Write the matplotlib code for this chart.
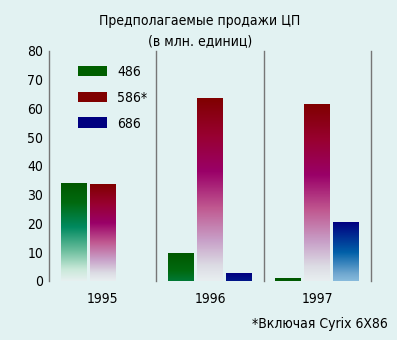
import numpy as np
import matplotlib
matplotlib.use("Agg")
import matplotlib.pyplot as plt
from matplotlib.colors import LinearSegmentedColormap
from matplotlib.patches import Patch

plt.rcParams['font.family'] = ['DejaVu Sans']
plt.rcParams['font.stretch'] = 'condensed'

years = ['1995', '1996', '1997']
series = ['486', '586*', '686']
sales_486 = [34, 9.5, 1]
sales_586 = [33.5, 63.5, 61.5]
sales_686 = [0, 2.5, 20.5]
yticks = [0, 10, 20, 30, 40, 50, 60, 70, 80]

title = 'Предполагаемые продажи ЦП'
subtitle = '(в млн. единиц)'
footnote = '*Включая Cyrix 6X86'

bg = '#e2f2f2'
fontsize = 10
solid = ['#005f00', '#800000', '#000080']
stops = [
    [(0, '#005800'), (0.2, '#006a10'), (0.45, '#008a60'), (0.7, '#70c0a0'),
     (0.88, '#c8e8d8'), (1, '#e6f0f0')],
    [(0, '#800000'), (0.2, '#980030'), (0.4, '#9a0068'), (0.6, '#c05890'),
     (0.78, '#c8a0c8'), (0.92, '#dcdce4'), (1, '#e8eef0')],
    [(0, '#000080'), (0.35, '#0060a8'), (0.6, '#70a8d0'), (0.8, '#a8d4ec'),
     (1, '#e0f0f8')],
]
cmaps = [LinearSegmentedColormap.from_list(f'grad{i}', s)
         for i, s in enumerate(stops)]

W, H = 397, 340
fig = plt.figure(figsize=(W / 100, H / 100), dpi=100, facecolor=bg)
ax = fig.add_axes([49 / W, (H - 281) / H, 322 / W, 230 / H])
ax.set_facecolor('none')
ax.set_xlim(0, 3)
ax.set_ylim(0, 80)

width = 0.242
pitch = 0.27
data = [sales_486, sales_586, sales_686]
for j, vals in enumerate(data):
    for i, h in enumerate(vals):
        if h <= 0:
            continue
        x0 = i + 0.5 + (j - 1) * pitch - width / 2
        # colour depends on distance from the top of the bar
        v = np.linspace(h, 0, 200)
        t = (h - v) / max(h, 30)
        img = t[:, None]
        ax.imshow(img, cmap=cmaps[j], vmin=0, vmax=1, aspect='auto',
                  extent=[x0, x0 + width, 0, h], interpolation='bilinear',
                  zorder=2)

for x in range(4):
    ax.plot([x, x], [0, 80], color='#767676', lw=1.0, zorder=1,
            clip_on=False)

for s in ax.spines.values():
    s.set_visible(False)
ax.set_yticks(yticks)
ax.set_yticklabels([str(v) for v in yticks], fontsize=fontsize)
ax.set_xticks([0.5, 1.5, 2.5])
ax.set_xticklabels(years, fontsize=fontsize)
ax.tick_params(axis='y', length=0, pad=4)
ax.tick_params(axis='x', length=0, pad=8)

handles = [Patch(facecolor=c, edgecolor='none') for c in solid]
ax.legend(handles, series, loc='upper left', bbox_to_anchor=(78 / W, 1 - 65 / H),
          bbox_transform=fig.transFigure, frameon=False, fontsize=fontsize,
          handlelength=2.1, handleheight=0.8, handletextpad=0.7,
          labelspacing=0.85, borderpad=0, borderaxespad=0)

fig.text(200 / W, 1 - 21 / H, title, ha='center', va='center',
         fontsize=fontsize)
fig.text(200 / W, 1 - 41 / H, subtitle, ha='center', va='center',
         fontsize=fontsize)
fig.text(388 / W, 1 - 324 / H, footnote, ha='right', va='center',
         fontsize=fontsize)

fig.savefig('out.png', dpi=100, facecolor=bg)
